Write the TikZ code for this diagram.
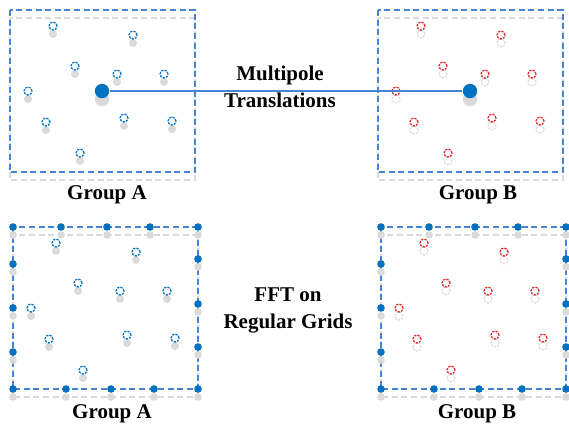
\documentclass[tikz,border=0pt]{standalone}
\usepackage{fontspec}
\setmainfont{Liberation Serif}
\usepackage{tikz}
\usetikzlibrary{shapes}
\definecolor{dotblue}{RGB}{0,112,192}
\definecolor{boxblue}{RGB}{72,132,212}
\definecolor{shadowgray}{RGB}{218,218,218}
\definecolor{ringred}{RGB}{226,40,40}
\tikzset{
  boxline/.style={draw=boxblue, line width=1.1pt, dash pattern=on 3pt off 1.8pt},
  boxshade/.style={draw=shadowgray, line width=1.1pt, dash pattern=on 3pt off 1.8pt},
  ringA/.style={circle, draw=dotblue, line width=0.65pt, dash pattern=on 1.1pt off 0.6pt, minimum size=4pt, inner sep=0pt},
  ringB/.style={ringA, draw=ringred},
  shadeA/.style={fill=shadowgray},
  shadeB/.style={draw=shadowgray, line width=0.55pt, dash pattern=on 1.1pt off 0.6pt},
  bigdot/.style={circle, fill=dotblue, minimum size=7.2pt, inner sep=0pt},
  griddot/.style={circle, fill=dotblue, minimum size=3.8pt, inner sep=0pt},
  heading/.style={font=\fontsize{10.5}{13.5}\selectfont\bfseries, anchor=base},
}
\newcommand{\groupbox}[2] {\draw [boxshade] (#1,#2+8) rectangle ++(185,162); \draw [boxline] (#1,#2) rectangle ++(185,162);}
\newcommand{\particle}[4] {\path [shade#4] (#1,#2+8) circle (2pt); \node at (#1,#2) (#3) [ring#4] {};}
\newcommand{\source}[3] {\fill [shadowgray] (#1,#2+8) circle (3.6pt); \node at (#1,#2) (#3) [bigdot] {};}
\newcommand{\gridpt}[3] {\fill [shadowgray] (#1,#2+8) circle (1.9pt); \node at (#1,#2) (#3) [griddot] {};}
\newcommand{\particles}[4] {
  \particle {#1+43}{#2+16}{#3p1}{#4}
  \particle {#1+123}{#2+25}{#3p2}{#4}
  \particle {#1+65}{#2+56}{#3p3}{#4}
  \particle {#1+107}{#2+64}{#3p4}{#4}
  \particle {#1+154}{#2+64}{#3p5}{#4}
  \particle {#1+18}{#2+81}{#3p6}{#4}
  \particle {#1+36}{#2+112}{#3p7}{#4}
  \particle {#1+114}{#2+108}{#3p8}{#4}
  \particle {#1+162}{#2+111}{#3p9}{#4}
  \particle {#1+70}{#2+143}{#3p10}{#4}
}
\newcommand{\gridpts}[3] {
  \gridpt {#1}{#2}{#3nw}
  \gridpt {#1+48}{#2}{#3n1}
  \gridpt {#1+94}{#2}{#3n2}
  \gridpt {#1+137}{#2}{#3n3}
  \gridpt {#1+185}{#2}{#3ne}
  \gridpt {#1}{#2+37}{#3w1}
  \gridpt {#1}{#2+81}{#3w2}
  \gridpt {#1}{#2+125}{#3w3}
  \gridpt {#1+185}{#2+32}{#3e1}
  \gridpt {#1+185}{#2+77}{#3e2}
  \gridpt {#1+185}{#2+120}{#3e3}
  \gridpt {#1}{#2+162}{#3sw}
  \gridpt {#1+53}{#2+162}{#3s1}
  \gridpt {#1+98}{#2+162}{#3s2}
  \gridpt {#1+141}{#2+162}{#3s3}
  \gridpt {#1+185}{#2+162}{#3se}
}

\begin{document}
\begin{tikzpicture}[x=0.5pt, y=-0.5pt]
\useasboundingbox (0,0) rectangle (569,425);

% direct multipole translation between the two groups
\groupbox {10}{10}
\groupbox {378}{10}
\particles {10}{10}{a}{A}
\particles {378}{10}{b}{B}
\source {102}{91}{srcA}
\source {470}{91}{srcB}
\draw [boxblue, line width=0.8pt] (srcA) -- (srcB);

\node at (107,199) (groupA) [heading] {Group A};
\node at (478,199) (groupB) [heading] {Group B};
\node at (280,80) (mp1) [heading] {Multipole};
\node at (280,107) (mp2) [heading] {Translations};

% same groups with charges spread onto regular grids
\groupbox {13}{227}
\groupbox {381}{227}
\particles {13}{227}{ga}{A}
\particles {381}{227}{gb}{B}
\gridpts {13}{227}{gA}
\gridpts {381}{227}{gB}

\node at (112,418) (gridA) [heading] {Group A};
\node at (477,418) (gridB) [heading] {Group B};
\node at (288,301) (fft1) [heading] {FFT on};
\node at (288,328) (fft2) [heading] {Regular Grids};
\end{tikzpicture}
\end{document}
